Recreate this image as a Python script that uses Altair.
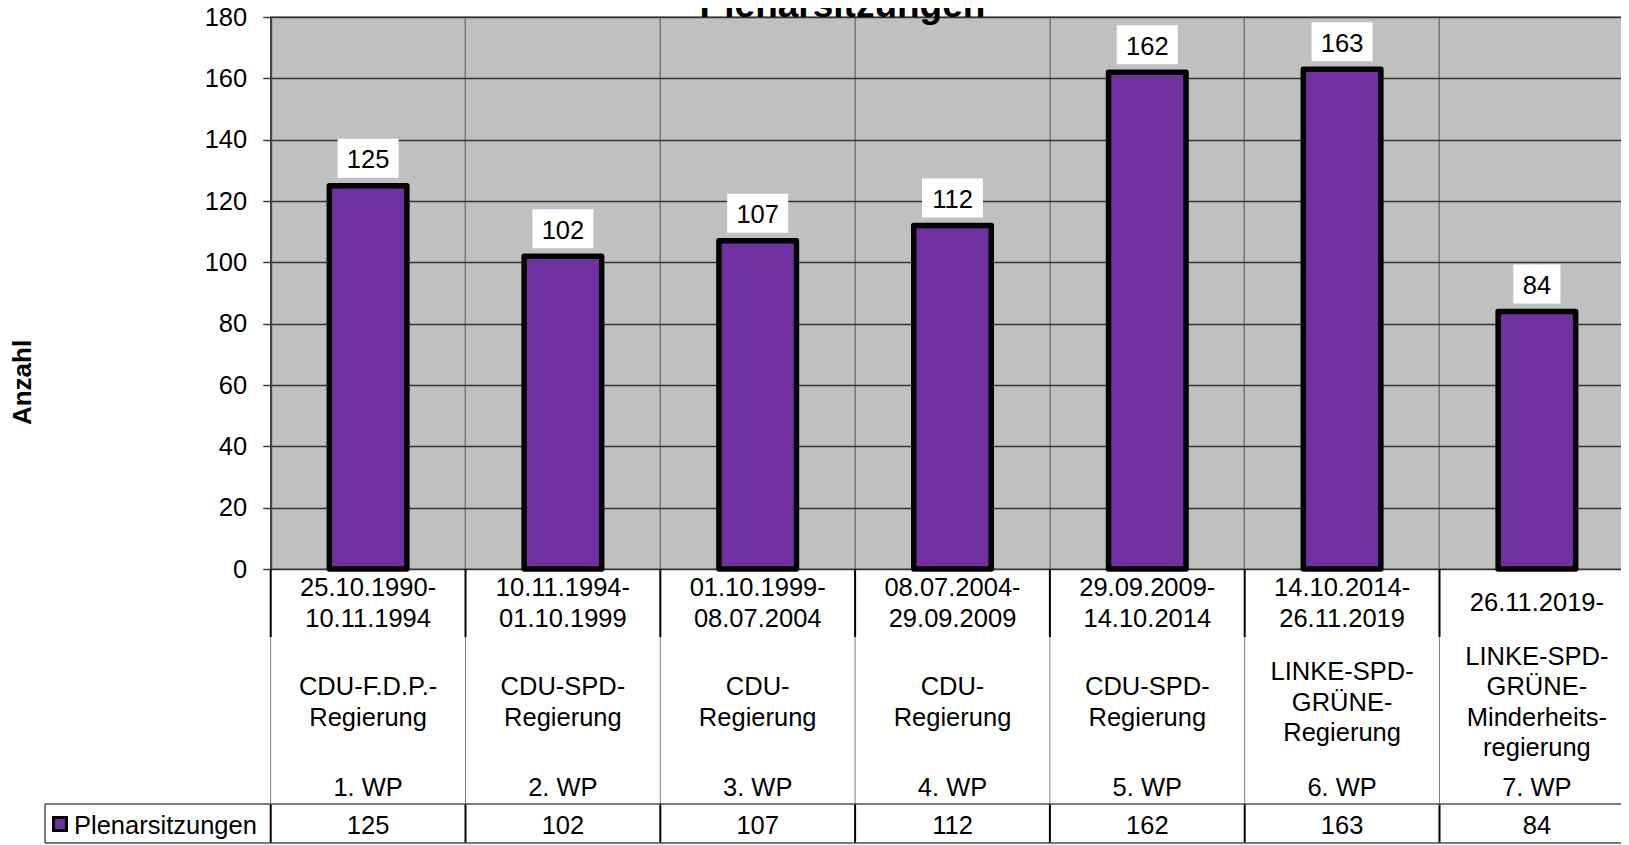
import altair as alt
import pandas as pd

# ---------------- data ----------------
wp = ["1. WP", "2. WP", "3. WP", "4. WP", "5. WP", "6. WP", "7. WP"]
periods = [
    "25.10.1990-\n10.11.1994",
    "10.11.1994-\n01.10.1999",
    "01.10.1999-\n08.07.2004",
    "08.07.2004-\n29.09.2009",
    "29.09.2009-\n14.10.2014",
    "14.10.2014-\n26.11.2019",
    "26.11.2019-",
]
governments = [
    "CDU-F.D.P.-\nRegierung",
    "CDU-SPD-\nRegierung",
    "CDU-\nRegierung",
    "CDU-\nRegierung",
    "CDU-SPD-\nRegierung",
    "LINKE-SPD-\nGRÜNE-\nRegierung",
    "LINKE-SPD-\nGRÜNE-\nMinderheits-\nregierung",
]
plenarsitzungen = [125, 102, 107, 112, 162, 163, 84]
series_name = "Plenarsitzungen"
chart_title = "Plenarsitzungen"
y_title = "Anzahl"
y_ticks = [0, 20, 40, 60, 80, 100, 120, 140, 160, 180]

df = pd.DataFrame({"wp": wp, "period": periods, "gov": governments, "val": plenarsitzungen})
one = pd.DataFrame({"label": [series_name], "title": [chart_title]})

# ---------------- layout ----------------
W = 1363.6
H = 552
PAD_L = 262.7
SVG_W = 1613
FONT = "Liberation Sans"
FS = 25.5
PURPLE = "#7030A0"
LH_DATE = 31
LH_GOV = 30.5

xscale = alt.Scale(paddingInner=0, paddingOuter=0)
X = alt.X("wp:N", sort=wp, scale=xscale, title=None)
XB = alt.X("wp:N", sort=wp, scale=xscale, title=None, bandPosition=0)

base = alt.Chart(df)

bars = base.mark_bar(
    width=alt.RelativeBandSize(0.398), fill=PURPLE, stroke="black",
    strokeWidth=5.5, strokeJoin="round"
).encode(
    x=alt.X("wp:N", sort=wp, scale=xscale, title=None,
            axis=alt.Axis(grid=True, bandPosition=0, labels=False, ticks=False,
                          domain=False, gridColor="#555555", gridWidth=1)),
    y=alt.Y("val:Q", scale=alt.Scale(domain=[0, 180], nice=False),
            axis=alt.Axis(values=y_ticks, grid=True, gridColor="#333333", gridWidth=1.5,
                          domainColor="#404040", domainWidth=2, tickColor="#404040",
                          tickSize=8, tickWidth=1.5, labelFontSize=FS, labelColor="black",
                          labelPadding=16, labelFont=FONT,
                          title=y_title, titleFontSize=26, titleFontWeight="bold",
                          titleColor="black", titleFont=FONT, titleAngle=270,
                          titleX=-248, titleY=365, titleAlign="center",
                          titleBaseline="middle")),
)

label_box = base.transform_calculate(
    boxw="length(toString(datum.val)) * 14 + 19"
).mark_bar(fill="white", yOffset=-47, y2Offset=-8).encode(
    x=X, y=alt.Y("val:Q"), y2=alt.Y2("val"),
    size=alt.Size("boxw:Q", scale=None, legend=None),
)

label_text = base.mark_text(fontSize=FS, font=FONT, color="black", dy=-25.5,
                            baseline="middle").encode(
    x=X, y=alt.Y("val:Q"), text=alt.Text("val:Q"))

# multi-line blocks are vertically centred on a fixed row position
period_text = base.transform_calculate(
    ty=f"586 - (length(split(datum.period, '\\n')) - 1) * {LH_DATE} / 2"
).mark_text(fontSize=FS, font=FONT, color="black", lineBreak="\n",
            lineHeight=LH_DATE, baseline="middle").encode(
    x=X, y=alt.Y("ty:Q", scale=None), text="period:N")

gov_text = base.transform_calculate(
    ty=f"685.5 - (length(split(datum.gov, '\\n')) - 1) * {LH_GOV} / 2"
).mark_text(fontSize=FS, font=FONT, color="black", lineBreak="\n",
            lineHeight=LH_GOV, baseline="middle").encode(
    x=X, y=alt.Y("ty:Q", scale=None), text="gov:N")

wp_text = base.mark_text(fontSize=FS, font=FONT, color="black",
                         baseline="middle").encode(
    x=X, y=alt.value(771), text="wp:N")

table_text = base.mark_text(fontSize=FS, font=FONT, color="black",
                            baseline="middle").encode(
    x=X, y=alt.value(809), text=alt.Text("val:Q"))

sep1 = base.mark_rule(color="black", strokeWidth=2).encode(
    x=XB, y=alt.value(H), y2=alt.value(620))
sep2 = base.mark_rule(color="#808080", strokeWidth=1).encode(
    x=XB, y=alt.value(620), y2=alt.value(787))
sep3 = base.mark_rule(color="black", strokeWidth=2).encode(
    x=XB, y=alt.value(787), y2=alt.value(826))

o = alt.Chart(one)
hline_top = o.mark_rule(color="#505050", strokeWidth=1.5).encode(
    x=alt.value(-225.7), x2=alt.value(W), y=alt.value(787))
hline_bot = o.mark_rule(color="#505050", strokeWidth=1.5).encode(
    x=alt.value(-225.7), x2=alt.value(W), y=alt.value(826))
vline_left = o.mark_rule(color="#505050", strokeWidth=1.5).encode(
    x=alt.value(-225.7), y=alt.value(787), y2=alt.value(826))

legend_sym = o.mark_square(size=169, fill=PURPLE, stroke="black", strokeWidth=3,
                           opacity=1).encode(x=alt.value(-210.7), y=alt.value(807))
legend_txt = o.mark_text(fontSize=FS, font=FONT, color="black", align="left",
                         baseline="middle").encode(
    x=alt.value(-196.7), y=alt.value(809), text="label:N")

title = o.mark_text(fontSize=37, font=FONT, fontWeight="bold", color="black",
                    align="center", baseline="alphabetic").encode(
    x=alt.value(571.8), y=alt.value(-0.5), text="title:N")

chart = alt.layer(
    bars, label_box, label_text, period_text, gov_text, wp_text, table_text,
    sep1, sep2, sep3, hline_top, hline_bot, vline_left, legend_sym, legend_txt, title
).properties(
    width=W, height=H,
    autosize=alt.AutoSizeParams(type="none"),
    padding={"left": PAD_L, "top": 9, "right": SVG_W - PAD_L - W, "bottom": 276},
).configure(font=FONT).configure_view(
    fill="#C0C0C0", stroke="#808080", strokeWidth=1.5
)

chart.save("out.html", embed_options={"renderer": "svg", "actions": False})
